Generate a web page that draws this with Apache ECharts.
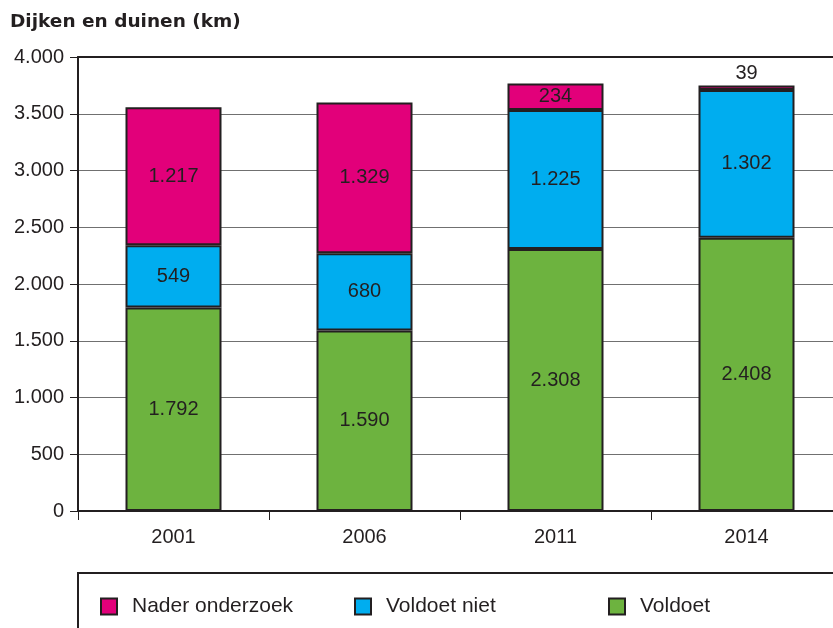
<!DOCTYPE html>
<html><head><meta charset="utf-8">
<script src="https://cdn.jsdelivr.net/npm/echarts@6/dist/echarts.min.js"></script>
<style>html,body{margin:0;padding:0;background:#fff}#c{width:833px;height:628px}</style>
</head><body><div id="c"></div>
<script>
const categories = ['2001', '2006', '2011', '2014'];
const voldoet = [1792, 1590, 2308, 2408];
const voldoetNiet = [549, 680, 1225, 1302];
const naderOnderzoek = [1217, 1329, 234, 39];
const yTicks = [0, 500, 1000, 1500, 2000, 2500, 3000, 3500, 4000];

const fmt = v => String(v).replace(/\B(?=(\d{3})+(?!\d))/g, '.');
const FONT = '"Liberation Sans", Arial, sans-serif';
const INK = '#231f20';
const colors = { nader: '#e2007a', niet: '#00adef', voldoet: '#6db33f' };

const chart = echarts.init(document.getElementById('c'));
const labelBase = { show: true, color: INK, fontFamily: FONT, fontSize: 20, formatter: p => fmt(p.value) };
const barStyle = c => ({ color: c, borderColor: INK, borderWidth: 2 });

function legendItem(name, color, left) {
  return {
    left: left, top: 596, itemWidth: 16, itemHeight: 16, itemGap: 0,
    icon: 'rect', selectedMode: false, padding: 0,
    textStyle: { fontFamily: FONT, fontSize: 21, color: INK, padding: [0, 0, 0, 10] },
    data: [{ name: name, itemStyle: { color: color, borderColor: INK, borderWidth: 2 } }]
  };
}

chart.setOption({
  animation: false,
  title: { text: 'Dijken en duinen (km)', left: 10, top: 13, padding: 0,
    textStyle: { fontFamily: '"DejaVu Sans", sans-serif', fontWeight: 'bold', fontSize: 18.5, color: INK } },
  grid: { left: 78, width: 764, top: 57, bottom: 117, outerBoundsMode: 'none', containLabel: false },
  legend: [
    legendItem('Nader onderzoek', colors.nader, 100),
    legendItem('Voldoet niet', colors.niet, 354),
    legendItem('Voldoet', colors.voldoet, 608)
  ],
  graphic: [{ type: 'rect', shape: { x: 78, y: 573, width: 800, height: 100 },
    style: { fill: 'none', stroke: INK, lineWidth: 2 }, silent: true }],
  xAxis: [{
    type: 'category', data: categories,
    axisLine: { lineStyle: { color: INK, width: 2 } },
    axisTick: { show: true, length: 9, lineStyle: { color: INK, width: 1 } },
    axisLabel: { color: INK, fontFamily: FONT, fontSize: 20, margin: 16 }
  }, {
    type: 'category', data: categories, position: 'top',
    axisLine: { show: true, lineStyle: { color: INK, width: 2 } },
    axisTick: { show: false }, axisLabel: { show: false }
  }],
  yAxis: {
    type: 'value', min: 0, max: 4000, interval: 500,
    axisLine: { show: true, lineStyle: { color: INK, width: 2 } },
    axisTick: { show: true, length: 8, lineStyle: { color: INK, width: 1 } },
    axisLabel: { color: INK, fontFamily: FONT, fontSize: 20, margin: 14,
      formatter: v => yTicks.includes(v) ? fmt(v) : '' },
    splitLine: { lineStyle: { color: '#707070', width: 1 } }
  },
  series: [
    { name: 'Voldoet', type: 'bar', stack: 't', data: voldoet, barWidth: 96,
      itemStyle: barStyle(colors.voldoet), label: Object.assign({}, labelBase, { position: 'inside' }) },
    { name: 'Voldoet niet', type: 'bar', stack: 't', data: voldoetNiet,
      itemStyle: barStyle(colors.niet), label: Object.assign({}, labelBase, { position: 'inside' }) },
    { name: 'Nader onderzoek', type: 'bar', stack: 't',
      data: naderOnderzoek.map(v => v < 100 ? { value: v, label: { position: 'top', distance: 2 } } : v),
      itemStyle: barStyle(colors.nader), label: Object.assign({}, labelBase, { position: 'inside' }) }
  ]
});
</script></body></html>
